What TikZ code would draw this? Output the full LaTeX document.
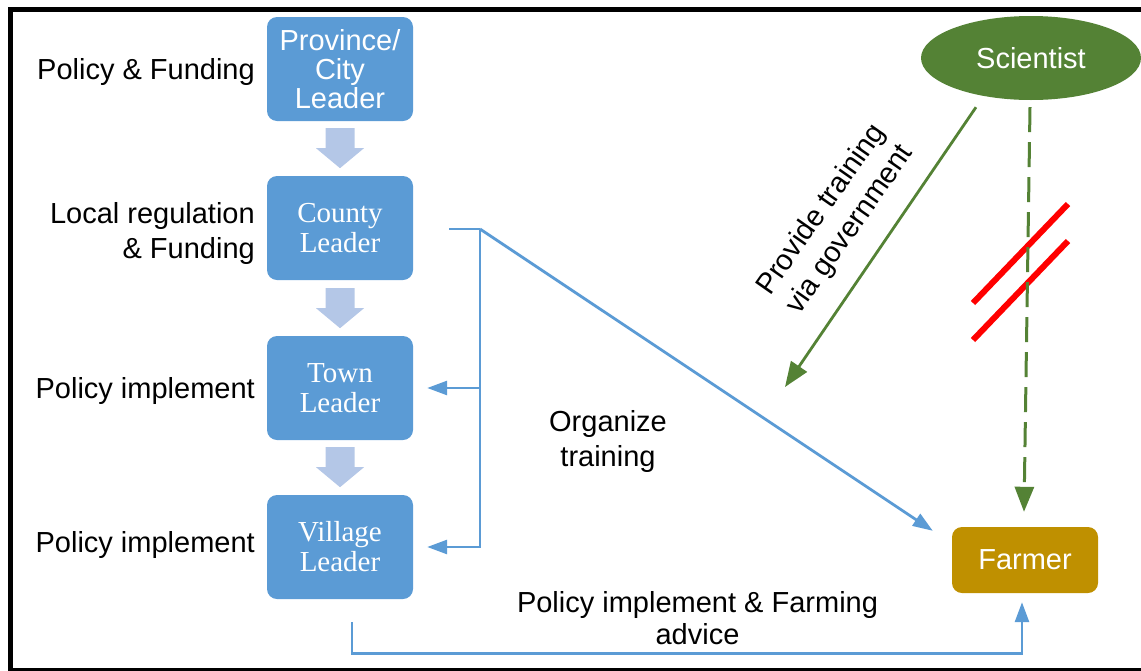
\documentclass[tikz,border=0pt]{standalone}
\usepackage{fontspec}
\setmainfont{Liberation Serif}
\newfontfamily\arialfont{Liberation Sans}
\usetikzlibrary{arrows.meta,calc,shapes.geometric}
\definecolor{boxblue}{HTML}{5B9BD5}
\definecolor{lightarrow}{HTML}{B4C7E7}
\definecolor{sgreen}{HTML}{548235}
\definecolor{fgold}{HTML}{BF9000}
\newcommand\blkarrow[1]{\fill[arrowfill] #1 ++(-14.5,0) -- ++(29,0) -- ++(0,20) -- ++(9.5,0) -- ++(-24,20) -- ++(-24,-20) -- ++(9.5,0) -- cycle;}
\begin{document}
\begin{tikzpicture}[x=1pt,y=-1pt,
  lbox/.style={fill=boxblue, rounded corners=10pt, minimum width=146pt, minimum height=104pt, inner sep=0pt, text=white, align=center},
  sansbox/.style={lbox, font=\arialfont\fontsize{29}{29}\selectfont},
  serifbox/.style={lbox, font=\fontsize{29}{30}\selectfont},
  lbl/.style={inner sep=0pt, font=\arialfont\fontsize{29}{35}\selectfont},
  arrowfill/.style={fill=lightarrow},
  blueline/.style={draw=boxblue, line width=2.8pt},
  bluearrow/.style={blueline, -{Triangle[length=20pt,width=14pt]}},
  greenarrow/.style={draw=sgreen, line width=2.8pt, -{Triangle[length=25pt,width=19pt]}},
  redbar/.style={draw=red, line width=6pt}
]
\useasboundingbox (0,0) rectangle (1141,670);
\draw[line width=5pt] (10.5,9) rectangle (1160,670.5);

% leader boxes
\node[sansbox] (prov) at (340,69) {Province/\\City\\Leader};
\node[serifbox] (county) at (340,228) {County\\Leader};
\node[serifbox] (town) at (340,388) {Town\\Leader};
\node[serifbox] (village) at (340,547) {Village\\Leader};

% block arrows
\blkarrow{($(prov.south)+(0,7)$)}
\blkarrow{($(county.south)+(0,8)$)}
\blkarrow{($(town.south)+(0,7)$)}

% left labels
\node[lbl, anchor=base east] (l1) at (255,79) {Policy \& Funding};
\node[lbl, anchor=base east, align=right] (l2) at (255,258) {Local regulation\\\& Funding};
\node[lbl, anchor=base east] (l3) at (255,398) {Policy implement};
\node[lbl, anchor=base east] (l4) at (255,552) {Policy implement};

% scientist and farmer
\node[ellipse, fill=sgreen, minimum width=220pt, minimum height=84pt, inner sep=0pt, text=white, font=\arialfont\fontsize{29}{29}\selectfont] (sci) at (1031,58) {Scientist};
\node[fill=fgold, rounded corners=10pt, minimum width=146pt, minimum height=66pt, inner sep=0pt, text=white, font=\arialfont\fontsize{29}{29}\selectfont] (farmer) at (1025,560) {Farmer};

% blue connectors
\coordinate (j) at (480,229);
\draw[blueline] ($(county.east)+(36,1)$) -- (j);
\draw[bluearrow] (j) |- ($(village.east)+(14,0)$);
\draw[bluearrow] (j |- town.east) -- ($(town.east)+(14,0)$);
\draw[bluearrow] (j) -- ($(farmer.north west)+(-19,4)$);
\draw[bluearrow] ($(village.south)+(12,23)$) -- ++(0,31) -| ($(farmer.south)+(-3,9)$);

% red bars
\draw[redbar] (973,303) -- (1068,204);
\draw[redbar] (973,340) -- (1068,241);

% green connectors
\coordinate (gov) at (785,387);
\draw[greenarrow] ($(sci.south)+(-55,7)$) -- (gov);
\draw[greenarrow, dash pattern=on 25pt off 10pt, line width=3pt] ($(sci.south)+(-1,7)$) -- ($(farmer.north)+(-1,-15)$);

% other labels
\node[lbl, align=center, rotate=55] (l5) at (836,220) {Provide training\\via government};
\node[lbl, align=center, anchor=base] (l6) at (608,466) {Organize\\training};
\node[lbl, align=center, anchor=base, font=\arialfont\fontsize{29}{32}\selectfont] (l7) at (697.5,644) {Policy implement \& Farming\\advice};
\end{tikzpicture}
\end{document}
